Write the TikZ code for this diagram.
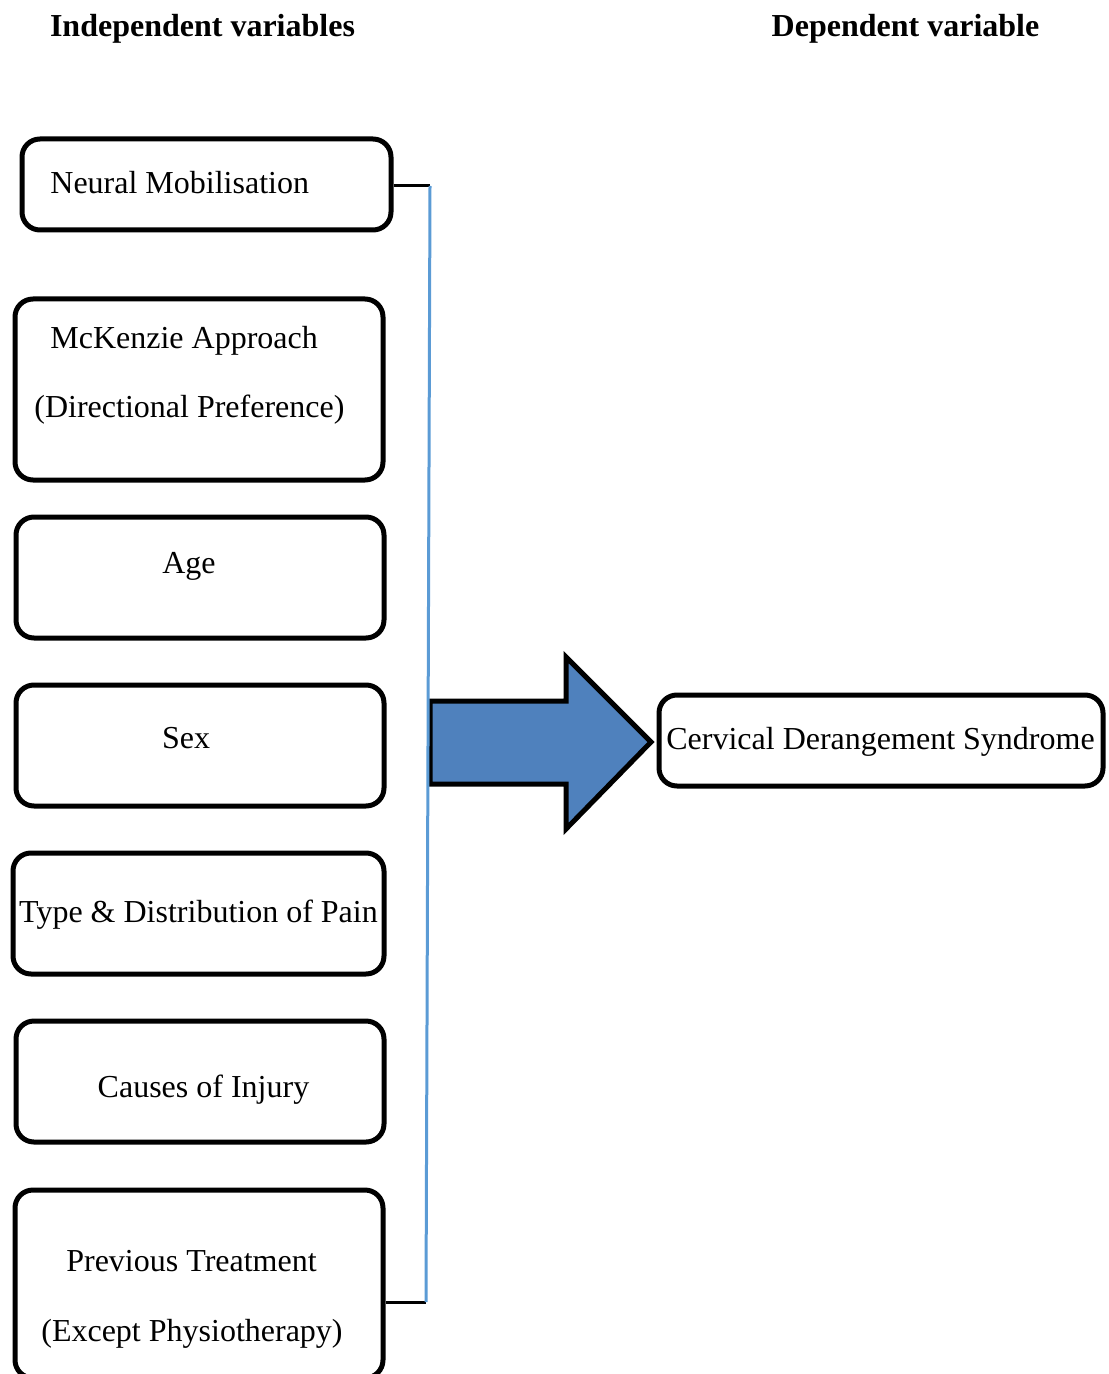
\documentclass[tikz,border=0pt]{standalone}
\usepackage{fontspec}
\setmainfont{Liberation Serif}
\usepackage{xcolor}
\usetikzlibrary{fit}

\definecolor{busblue}{RGB}{91,155,213}
\definecolor{arrowblue}{RGB}{79,129,189}

\begin{document}
\begin{tikzpicture}[
    x=0.5pt, y=-0.5pt,
    box/.style={draw, line width=2.5pt, rounded corners=9pt, inner sep=0pt},
    txt/.style={font=\fontsize{16}{19}\selectfont, inner sep=0pt, anchor=base},
    head/.style={txt, font=\fontsize{16}{19}\selectfont\bfseries},
    link/.style={line width=1.5pt, black},
    bus/.style={line width=1.5pt, color=busblue},
    bigarrow/.style={fill=arrowblue, draw=black, line width=2.5pt, line join=miter}
]
    \useasboundingbox (0,0) rectangle (1108,1374);

    % headings
    \node[head] (indep) at (202.5,37) {Independent variables};
    \node[head] (dep) at (905.5,37) {Dependent variable};

    % independent variable boxes
    \node[box, fit={(22,139) (391,230)}] (neural) {};
    \node[box, fit={(15,299) (383,480)}] (mckenzie) {};
    \node[box, fit={(16,517) (384,638)}] (age) {};
    \node[box, fit={(16,685) (384,806)}] (sex) {};
    \node[box, fit={(13,853) (384,974)}] (pain) {};
    \node[box, fit={(16,1021) (384,1142)}] (injury) {};
    \node[box, fit={(15,1190) (383,1378)}] (previous) {};

    \node[txt, anchor=base west] (neuraltxt) at (50,194) {Neural Mobilisation};
    \node[txt, anchor=base west] (mckenzietxt) at (50,349) {McKenzie Approach};
    \node[txt, anchor=base west] (mckenzietxtb) at (34,417) {(Directional Preference)};
    \node[txt] (agetxt) at (189,573) {Age};
    \node[txt] (sextxt) at (186,748) {Sex};
    \node[txt] (paintxt) at (198.5,922) {Type \& Distribution of Pain};
    \node[txt] (injurytxt) at (203.5,1097) {Causes of Injury};
    \node[txt] (previoustxt) at (191.5,1271) {Previous Treatment};
    \node[txt] (previoustxtb) at (192,1341) {(Except Physiotherapy)};

    % dependent variable box
    \node[box, fit={(659,695) (1103,786)}] (cds) {};
    \node[txt] (cdstxt) at (880.5,749) {Cervical Derangement Syndrome};

    % block arrow
    \draw[bigarrow] (430,701) -- (566,701) -- (566,657) -- (651,742)
        -- (566,829) -- (566,784) -- (430,784) -- cycle;

    % bus line
    \coordinate (bustop) at (430,186);
    \coordinate (busbot) at (426,1302);
    \draw[link] (neural.east |- bustop) -- (bustop);
    \draw[link] (previous.east |- busbot) -- (busbot);
    \draw[bus] (bustop) -- (busbot);
\end{tikzpicture}
\end{document}
